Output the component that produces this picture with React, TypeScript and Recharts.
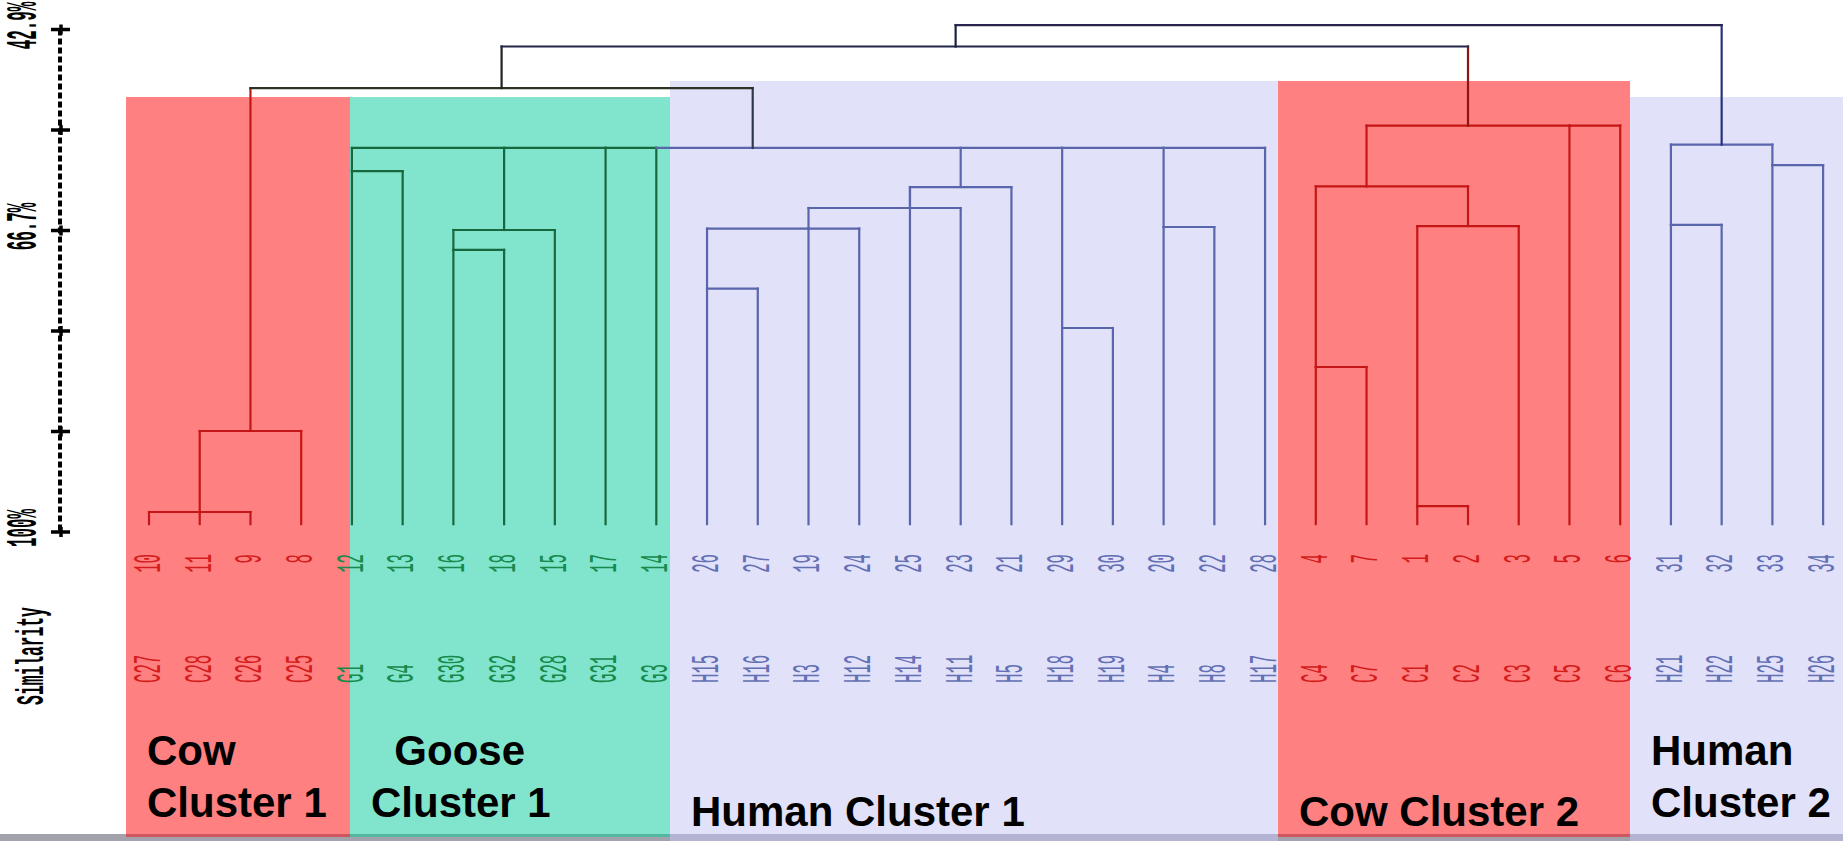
import React from "react";
import { ComposedChart, XAxis, YAxis, ReferenceLine, ReferenceArea, Scatter } from "recharts";

const W = 1843;
const H = 841;

// ---------- data ----------
const leafNumbers = ["10", "11", "9", "8", "12", "13", "16", "18", "15", "17", "14", "26", "27", "19", "24", "25", "23", "21", "29", "30", "20", "22", "28", "4", "7", "1", "2", "3", "5", "6", "31", "32", "33", "34"];
const leafNames = ["C27", "C28", "C26", "C25", "G1", "G4", "G30", "G32", "G28", "G31", "G3", "H15", "H16", "H3", "H12", "H14", "H11", "H5", "H18", "H19", "H4", "H8", "H17", "C4", "C7", "C1", "C2", "C3", "C5", "C6", "H21", "H22", "H25", "H26"];
const leafGroups = ["cow", "cow", "cow", "cow", "goose", "goose", "goose", "goose", "goose", "goose", "goose", "human", "human", "human", "human", "human", "human", "human", "human", "human", "human", "human", "human", "cow", "cow", "cow", "cow", "cow", "cow", "cow", "human", "human", "human", "human"];

// similarity (%) at which leaves start
const LEAF_BASE = 99.1;

type Anchor = "left" | "mid" | number;
interface TreeNode {
  id: string;
  children: string[];
  similarity: number;
  anchor: Anchor;
  group: string;
  barColor?: string;
}

// merges, children listed before parents; "L<i>" = leaf i
const treeNodes: TreeNode[] = [
  { id: "n1", children: ["L0", "L1", "L2"], similarity: 97.73, anchor: "mid", group: "cow" },
  { id: "n2", children: ["n1", "L3"], similarity: 88.52, anchor: "mid", group: "cow" },
  { id: "g1", children: ["L4", "L5"], similarity: 58.98, anchor: "left", group: "goose" },
  { id: "g2", children: ["L6", "L7"], similarity: 67.95, anchor: "left", group: "goose" },
  { id: "g3", children: ["g2", "L8"], similarity: 65.68, anchor: "mid", group: "goose" },
  { id: "h1", children: ["L11", "L12"], similarity: 72.34, anchor: "left", group: "human" },
  { id: "h2", children: ["h1", "L13", "L14"], similarity: 65.52, anchor: 13, group: "human" },
  { id: "h3", children: ["h2", "L16"], similarity: 63.18, anchor: 15, group: "human" },
  { id: "h4", children: ["h3", "L15", "L17"], similarity: 60.8, anchor: "mid", group: "human" },
  { id: "h5", children: ["L18", "L19"], similarity: 76.82, anchor: "left", group: "human" },
  { id: "h6", children: ["L20", "L21"], similarity: 65.34, anchor: "left", group: "human" },
  { id: "nG", children: ["g1", "g3", "L9", "L10", "h4", "h5", "h6", "L22"], similarity: 56.36, anchor: 11.9, group: "ghLink" },
  { id: "B", children: ["n2", "nG"], similarity: 49.55, anchor: "mid", group: "dark", barColor: "#2c3524" },
  { id: "c1", children: ["L23", "L24"], similarity: 81.25, anchor: "left", group: "cow" },
  { id: "c2", children: ["L25", "L26"], similarity: 97.05, anchor: "left", group: "cow" },
  { id: "c3", children: ["c2", "L27"], similarity: 65.23, anchor: "mid", group: "cow" },
  { id: "c4", children: ["c1", "c3"], similarity: 60.73, anchor: 24, group: "cow" },
  { id: "c5", children: ["c4", "L28", "L29"], similarity: 53.83, anchor: 26, group: "cowLink" },
  { id: "k1", children: ["L30", "L31"], similarity: 65.11, anchor: "left", group: "human" },
  { id: "k2", children: ["L32", "L33"], similarity: 58.3, anchor: "left", group: "human" },
  { id: "k3", children: ["k1", "k2"], similarity: 55.98, anchor: "mid", group: "humanLink" },
  { id: "A", children: ["B", "c5"], similarity: 44.83, anchor: 15.9, group: "navy", barColor: "#23284a" },
  { id: "root", children: ["A", "k3"], similarity: 42.39, anchor: "mid", group: "navy", barColor: "#2a2450" },
];

const yTicks = [42.9, 54.32, 65.74, 77.16, 88.58, 100];
const yTickLabels = ["42.9%", "", "66.7%", "", "", "100%"];

const clusters = [
  { lines: ["Cow", "Cluster 1"], from: -0.453, to: 3.962, top: 50.57, kind: "cow" },
  { lines: ["  Goose", "Cluster 1"], from: 3.962, to: 10.27, top: 50.57, kind: "goose" },
  { lines: ["Human Cluster 1"], from: 10.27, to: 22.255, top: 48.75, kind: "human" },
  { lines: ["Cow Cluster 2"], from: 22.255, to: 29.194, top: 48.75, kind: "cow" },
  { lines: ["Human", "Cluster 2"], from: 29.194, to: 33.392, top: 50.57, kind: "human" },
];

// ---------- axes config ----------
const X_DOMAIN: [number, number] = [-1.7544, 33.392];
const Y_DOMAIN: [number, number] = [39.545, 135.114];
const NUM_ROW = 102.5;
const NAME_ROW = 117.16;
const REGION_BOTTOM = 134.32;

// ---------- styles ----------
const lineColors: Record<string, string> = {
  cow: "#c41616",
  goose: "#17683f",
  human: "#5a66ab",
  ghLink: "#2e3a4c",
  dark: "#20231e",
  cowLink: "#8e1414",
  humanLink: "#28327e",
  navy: "#1d2040",
};
const labelColors: Record<string, string> = { cow: "#d41c1c", goose: "#178a4c", human: "#6470b4" };
const regionColors: Record<string, string> = { cow: "#ff8080", goose: "#80e5cc", human: "#e1e1fa" };
const stripColors: Record<string, string> = { cow: "#cf565e", goose: "#53b89f", human: "#b3b3d4" };
const stripHeights: Record<string, number> = { cow: 3, goose: 3, human: 7 };

interface Seg { x1: number; y1: number; x2: number; y2: number; color: string }

function buildSegments(): Seg[] {
  const info: Record<string, { anchor: number; sim: number; color: string }> = {};
  leafNumbers.forEach((_, i) => {
    info["L" + i] = { anchor: i, sim: LEAF_BASE, color: lineColors[leafGroups[i]] };
  });
  const segs: Seg[] = [];
  for (const n of treeNodes) {
    const ch = n.children.map((c) => info[c]);
    const xs = ch.map((c) => c.anchor);
    const lo = Math.min(...xs);
    const hi = Math.max(...xs);
    const anchor = n.anchor === "left" ? ch[0].anchor : n.anchor === "mid" ? (lo + hi) / 2 : n.anchor;
    ch.forEach((c) => segs.push({ x1: c.anchor, y1: c.sim, x2: c.anchor, y2: n.similarity, color: c.color }));
    const sorted = [...ch].sort((a, b) => a.anchor - b.anchor);
    for (let k = 0; k < sorted.length - 1; k++) {
      if (sorted[k + 1].anchor > sorted[k].anchor) {
        segs.push({
          x1: sorted[k].anchor,
          y1: n.similarity,
          x2: sorted[k + 1].anchor,
          y2: n.similarity,
          color: n.barColor ?? sorted[k + 1].color,
        });
      }
    }
    info[n.id] = { anchor, sim: n.similarity, color: lineColors[n.group] };
  }
  return segs;
}

const segments = buildSegments();
const numberData = leafNumbers.map((t, i) => ({ x: i, y: NUM_ROW, text: t, group: leafGroups[i] }));
const nameData = leafNames.map((t, i) => ({ x: i, y: NAME_ROW, text: t, group: leafGroups[i] }));

const MONO = "'Liberation Mono', 'DejaVu Sans Mono', monospace";
const STRETCH = 2.45;

const NumberLabel = (props: any) => {
  const { cx, cy, payload } = props;
  if (cx == null || cy == null) return null;
  return (
    <text
      transform={`translate(${cx + 1},${cy}) rotate(-90) scale(1,${STRETCH})`}
      textAnchor="end"
      dominantBaseline="central"
      fontFamily={MONO}
      fontSize={15.7}
      fill={labelColors[payload.group]}
    >
      {payload.text}
    </text>
  );
};

const NameLabel = (props: any) => {
  const { cx, cy, payload } = props;
  if (cx == null || cy == null) return null;
  return (
    <text
      transform={`translate(${cx + 1},${cy}) rotate(-90) scale(1,${STRETCH})`}
      textAnchor="start"
      dominantBaseline="central"
      fontFamily={MONO}
      fontSize={15.7}
      fill={labelColors[payload.group]}
    >
      {payload.text}
    </text>
  );
};

const AxisTick = (props: any) => {
  const { x, y, payload } = props;
  const idx = yTicks.indexOf(payload.value);
  const label = idx >= 0 ? yTickLabels[idx] : "";
  return (
    <g>
      <line x1={x - 9} y1={y} x2={x + 10} y2={y} stroke="#000" strokeWidth={3.5} />
      <line x1={x + 1} y1={y - 5} x2={x + 1} y2={y + 5} stroke="#000" strokeWidth={3.5} />
      {label ? (
        <text
          transform={`translate(${x - 35},${y - 4}) rotate(-90) scale(1,2.75)`}
          textAnchor="middle"
          dominantBaseline="central"
          fontFamily={MONO}
          fontWeight="bold"
          fontSize={15.9}
          fill="#000"
        >
          {label}
        </text>
      ) : null}
    </g>
  );
};

const SimilarityLabel = () => (
  <text
    transform={`translate(33,656) rotate(-90) scale(1,2.4)`}
    textAnchor="middle"
    dominantBaseline="central"
    fontFamily={MONO}
    fontWeight="bold"
    fontSize={16.3}
    fill="#000"
  >
    Similarity
  </text>
);

const makeRegionShape = (c: (typeof clusters)[number]) => (p: any) => {
  const { x, y, width, height } = p;
  const bottom = y + height;
  const two = c.lines.length > 1;
  const baselines = two ? [bottom - 69, bottom - 17] : [bottom - 8];
  return (
    <g>
      <rect x={x} y={y} width={width} height={height} fill={regionColors[c.kind]} />
      <rect x={x} y={bottom} width={width} height={stripHeights[c.kind]} fill={stripColors[c.kind]} />
      {c.lines.map((t, i) => (
        <text
          key={i}
          x={x + 21}
          y={baselines[i]}
          fontFamily="'Liberation Sans', Arial, sans-serif"
          fontWeight="bold"
          fontSize={42}
          fill="#000"
          style={{ whiteSpace: "pre" }}
        >
          {t}
        </text>
      ))}
    </g>
  );
};

export default function App() {
  return (
    <div
      style={{
        position: "absolute",
        left: 0,
        top: 0,
        width: W,
        height: H,
        background: "linear-gradient(to bottom, #ffffff 834px, #a2a2ad 834px)",
        overflow: "hidden",
      }}
    >
      <ComposedChart width={W} height={H} margin={{ top: 0, right: 0, bottom: 0, left: 0 }}>
        <XAxis type="number" dataKey="x" domain={X_DOMAIN} allowDataOverflow hide />
        <YAxis
          type="number"
          dataKey="y"
          domain={Y_DOMAIN}
          allowDataOverflow
          reversed
          width={60}
          ticks={yTicks}
          interval={0}
          axisLine={false}
          tickLine={false}
          tickSize={0}
          tickMargin={0}
          tick={<AxisTick />}
          label={{ content: () => <SimilarityLabel /> }}
        />
        {clusters.map((c, i) => (
          <ReferenceArea
            key={"r" + i}
            x1={c.from}
            x2={c.to}
            y1={c.top}
            y2={REGION_BOTTOM}
            ifOverflow="visible"
            fillOpacity={1}
            shape={makeRegionShape(c)}
          />
        ))}
        <ReferenceLine
          segment={[
            { x: X_DOMAIN[0], y: yTicks[0] },
            { x: X_DOMAIN[0], y: yTicks[yTicks.length - 1] },
          ]}
          stroke="#000"
          strokeWidth={4}
          strokeDasharray="6 3"
          ifOverflow="visible"
        />
        {segments.map((s, i) => (
          <ReferenceLine
            key={"s" + i}
            segment={[
              { x: s.x1, y: s.y1 },
              { x: s.x2, y: s.y2 },
            ]}
            stroke={s.color}
            strokeWidth={2.2}
            strokeLinecap="square"
            ifOverflow="visible"
          />
        ))}
        <Scatter data={numberData} shape={NumberLabel} isAnimationActive={false} />
        <Scatter data={nameData} shape={NameLabel} isAnimationActive={false} />
      </ComposedChart>
    </div>
  );
}
